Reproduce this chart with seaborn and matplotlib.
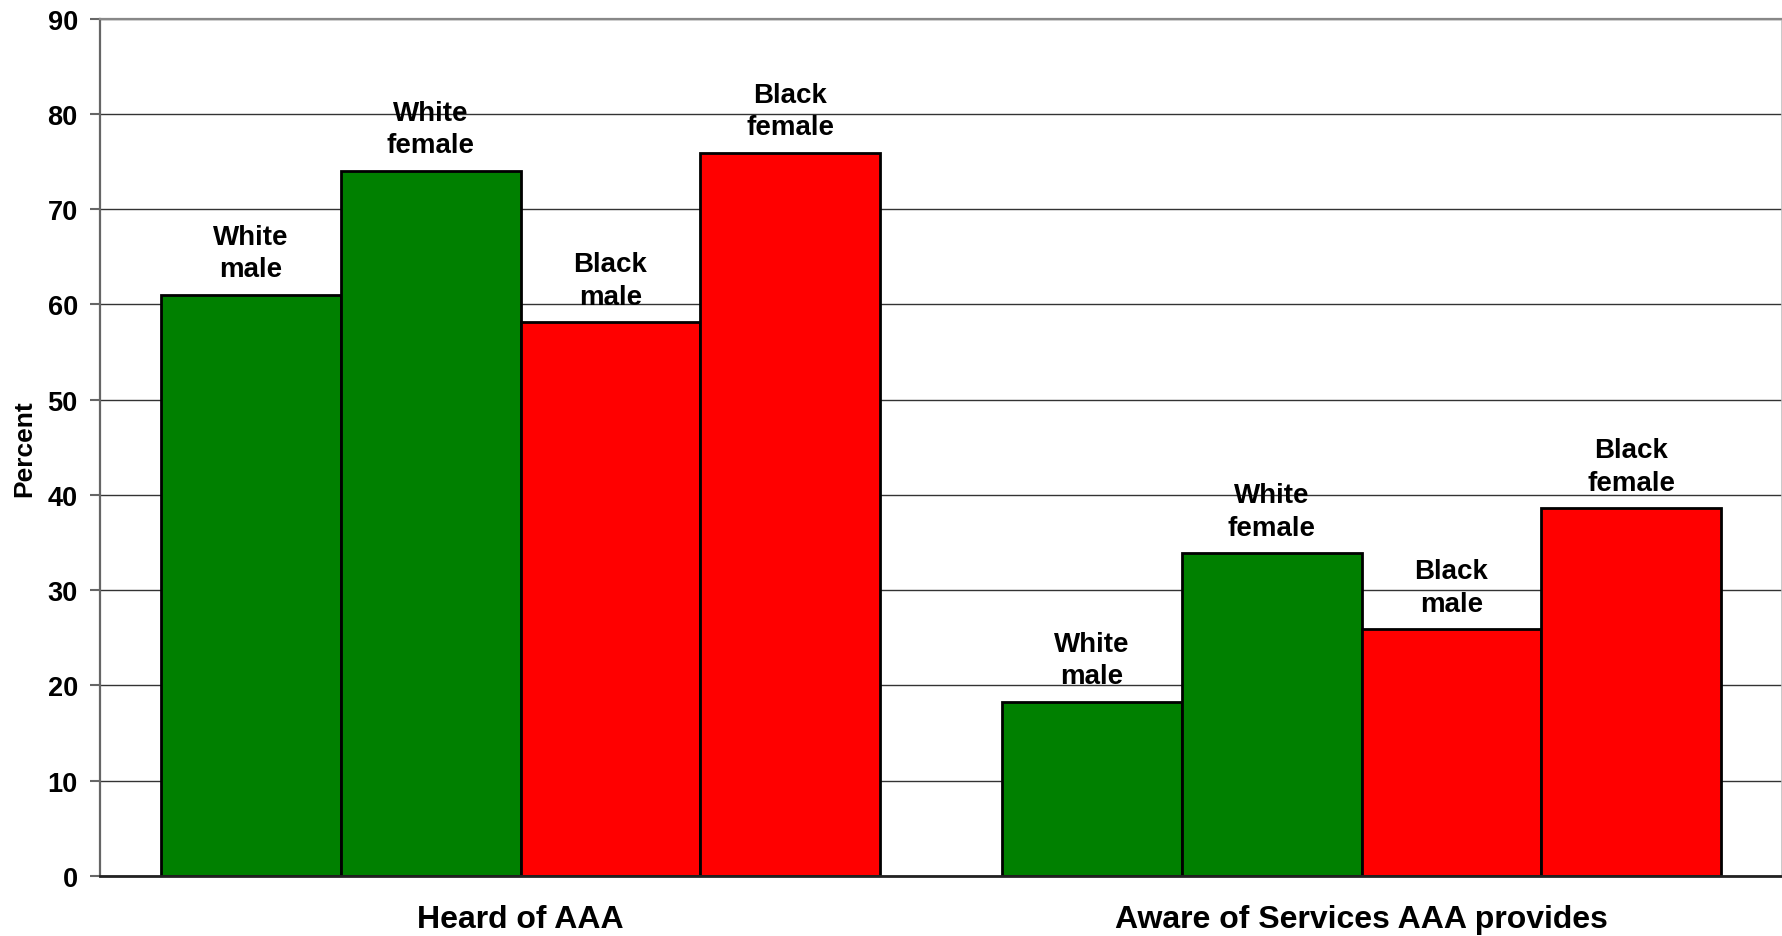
import matplotlib
matplotlib.use("Agg")
import matplotlib.pyplot as plt
import seaborn as sns
import pandas as pd
from matplotlib.ticker import FixedLocator, NullFormatter, FixedFormatter

categories = ["Heard of AAA", "Aware of Services AAA provides"]
groups = ["White\nmale", "White\nfemale", "Black\nmale", "Black\nfemale"]
heard = [61.0, 74.0, 58.1, 75.9]
aware = [18.3, 33.9, 25.9, 38.6]
colors = ["#008000", "#008000", "#FF0000", "#FF0000"]
yticks = [0, 10, 20, 30, 40, 50, 60, 70, 80, 90]

rows = []
for cat, vals in zip(categories, [heard, aware]):
    for g, v in zip(groups, vals):
        rows.append({"category": cat, "group": g, "value": v})
df = pd.DataFrame(rows)

sns.set_theme(style="white")
plt.rcParams["font.family"] = ["Liberation Sans", "DejaVu Sans"]
plt.rcParams["font.weight"] = "bold"
for k in ["text.color", "axes.labelcolor", "xtick.labelcolor", "ytick.labelcolor"]:
    plt.rcParams[k] = "black"

fig = plt.figure(figsize=(17.83, 9.37), dpi=100)
ax = fig.add_axes([100 / 1783, 1 - 877 / 937, (1782 - 100) / 1783, (877 - 19.5) / 937])

sns.barplot(data=df, x="category", y="value", hue="group", order=categories,
            hue_order=groups, palette=dict(zip(groups, colors)), width=0.855,
            edgecolor="black", linewidth=2.0, saturation=1, legend=False, ax=ax,
            zorder=3)

for cont, lab in zip(ax.containers, groups):
    ax.bar_label(cont, labels=[lab] * len(cont), padding=9, fontsize=20,
                 fontweight="bold", linespacing=1.33, color="black")

ax.set_ylim(0, 90)
ax.set_xlim(-0.5, 1.5)
ax.set_yticks(yticks)
ax.set_yticklabels([str(t) for t in yticks], fontsize=19.5, fontweight="bold")
ax.yaxis.grid(True, color="#333333", linewidth=1.0, zorder=0)
ax.set_axisbelow(True)

ax.xaxis.set_major_locator(FixedLocator([-0.5, 0.5, 1.5]))
ax.xaxis.set_major_formatter(NullFormatter())
ax.xaxis.set_minor_locator(FixedLocator([0, 1]))
ax.xaxis.set_minor_formatter(FixedFormatter(categories))
ax.tick_params(axis="x", which="minor", length=0, pad=20, labelsize=23, labelcolor="black")
ax.tick_params(axis="x", which="major", length=8, width=1.5, color="#777777", direction="out")
ax.tick_params(axis="y", which="major", length=7, width=1.5, color="#666666", direction="out",
               pad=9, left=True, labelsize=19.5, labelcolor="black")
for lbl in ax.get_xticklabels(minor=True):
    lbl.set_fontweight("bold")

ax.set_xlabel("")
ax.set_ylabel("Percent", fontsize=19, fontweight="bold", labelpad=8, color="black")

ax.spines["left"].set_color("#666666")
ax.spines["left"].set_linewidth(1.6)
ax.spines["bottom"].set_color("#222222")
ax.spines["bottom"].set_linewidth(2.0)
ax.spines["top"].set_color("#888888")
ax.spines["top"].set_linewidth(1.6)
ax.spines["right"].set_color("#c0c0c0")
ax.spines["right"].set_linewidth(1.2)
for s in ax.spines.values():
    s.set_visible(True)
    s.set_zorder(4)

fig.savefig("out.png", dpi=100, facecolor="white")
